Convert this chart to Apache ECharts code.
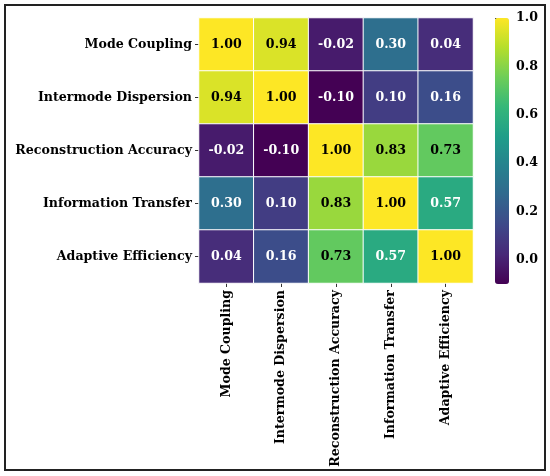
<!DOCTYPE html>
<html>
<head>
<meta charset="utf-8">
<script src="https://cdn.jsdelivr.net/npm/echarts@6/dist/echarts.min.js"></script>
<style>
  html, body { margin: 0; padding: 0; background: #fff; }
  #main { width: 550px; height: 476px; }
</style>
</head>
<body>
<div id="main"></div>
<script>
// categories (same order on both axes)
const labels = ['Mode Coupling', 'Intermode Dispersion', 'Reconstruction Accuracy', 'Information Transfer', 'Adaptive Efficiency']

// correlation rows
const modeCoupling = [1.00, 0.94, -0.02, 0.30, 0.04]
const intermodeDispersion = [0.94, 1.00, -0.10, 0.10, 0.16]
const reconstructionAccuracy = [-0.02, -0.10, 1.00, 0.83, 0.73]
const informationTransfer = [0.30, 0.10, 0.83, 1.00, 0.57]
const adaptiveEfficiency = [0.04, 0.16, 0.73, 0.57, 1.00]

// colorbar
const cbMin = -0.1
const cbMax = 1.0
const cbTicks = [0.0, 0.2, 0.4, 0.6, 0.8, 1.0]

const viridis = ['#440154', '#482878', '#3e4989', '#31688e', '#26828e',
  '#1f9e89', '#35b779', '#6ece58', '#b5de2b', '#fde725']

const rows = [modeCoupling, intermodeDispersion, reconstructionAccuracy, informationTransfer, adaptiveEfficiency]
const font = 'DejaVu Serif'
const fs = 12.6

let data = []
rows.forEach((row, y) => {
  row.forEach((v, x) => {
    data.push({
      value: [x, y, v],
      label: { color: v > 0.65 ? '#000' : '#fff' }
    })
  })
})

let chart = echarts.init(document.getElementById('main'), null, { renderer: 'canvas' })

let option = {
  animation: false,
  backgroundColor: '#fff',
  graphic: [{
    type: 'rect',
    shape: { x: 5, y: 5, width: 540, height: 465 },
    style: { fill: 'none', stroke: '#222', lineWidth: 2 },
    silent: true
  }],
  grid: [
    { left: 199, top: 18, width: 274, height: 265 },
    { left: 495, top: 18, width: 14, height: 266 }
  ],
  xAxis: [
    {
      type: 'category',
      data: labels,
      gridIndex: 0,
      position: 'bottom',
      axisLine: { show: false },
      axisTick: { show: true, alignWithLabel: true, length: 4, lineStyle: { color: '#333' } },
      axisLabel: {
        rotate: 90, margin: 7, interval: 0,
        fontFamily: font, fontWeight: 'bold', fontSize: fs, color: '#000'
      },
      splitLine: { show: false }
    },
    { type: 'value', gridIndex: 1, show: false, min: 0, max: 1 }
  ],
  yAxis: [
    {
      type: 'category',
      data: labels,
      gridIndex: 0,
      inverse: true,
      axisLine: { show: false },
      axisTick: { show: true, alignWithLabel: true, length: 4, lineStyle: { color: '#333' } },
      axisLabel: {
        margin: 7, interval: 0,
        fontFamily: font, fontWeight: 'bold', fontSize: fs, color: '#000'
      },
      splitLine: { show: false }
    },
    {
      type: 'value',
      gridIndex: 1,
      position: 'right',
      min: cbMin,
      max: cbMax,
      axisLine: { show: false },
      axisTick: { show: true, customValues: cbTicks, length: 4, lineStyle: { color: '#333' } },
      axisLabel: {
        customValues: cbTicks, margin: 7,
        formatter: v => v.toFixed(1),
        fontFamily: font, fontWeight: 'bold', fontSize: fs, color: '#000'
      },
      splitLine: { show: false }
    }
  ],
  visualMap: {
    type: 'continuous',
    min: cbMin,
    max: cbMax,
    seriesIndex: 0,
    left: 495,
    top: 18,
    padding: 0,
    itemWidth: 14,
    itemHeight: 266,
    calculable: false,
    realtime: false,
    inRange: { color: viridis }
  },
  series: [{
    type: 'heatmap',
    xAxisIndex: 0,
    yAxisIndex: 0,
    data: data,
    itemStyle: { borderColor: '#fff', borderWidth: 1 },
    label: {
      show: true,
      formatter: p => p.value[2].toFixed(2),
      fontFamily: font, fontWeight: 'bold', fontSize: fs
    },
    emphasis: { disabled: true }
  }]
}

chart.setOption(option)
</script>
</body>
</html>
